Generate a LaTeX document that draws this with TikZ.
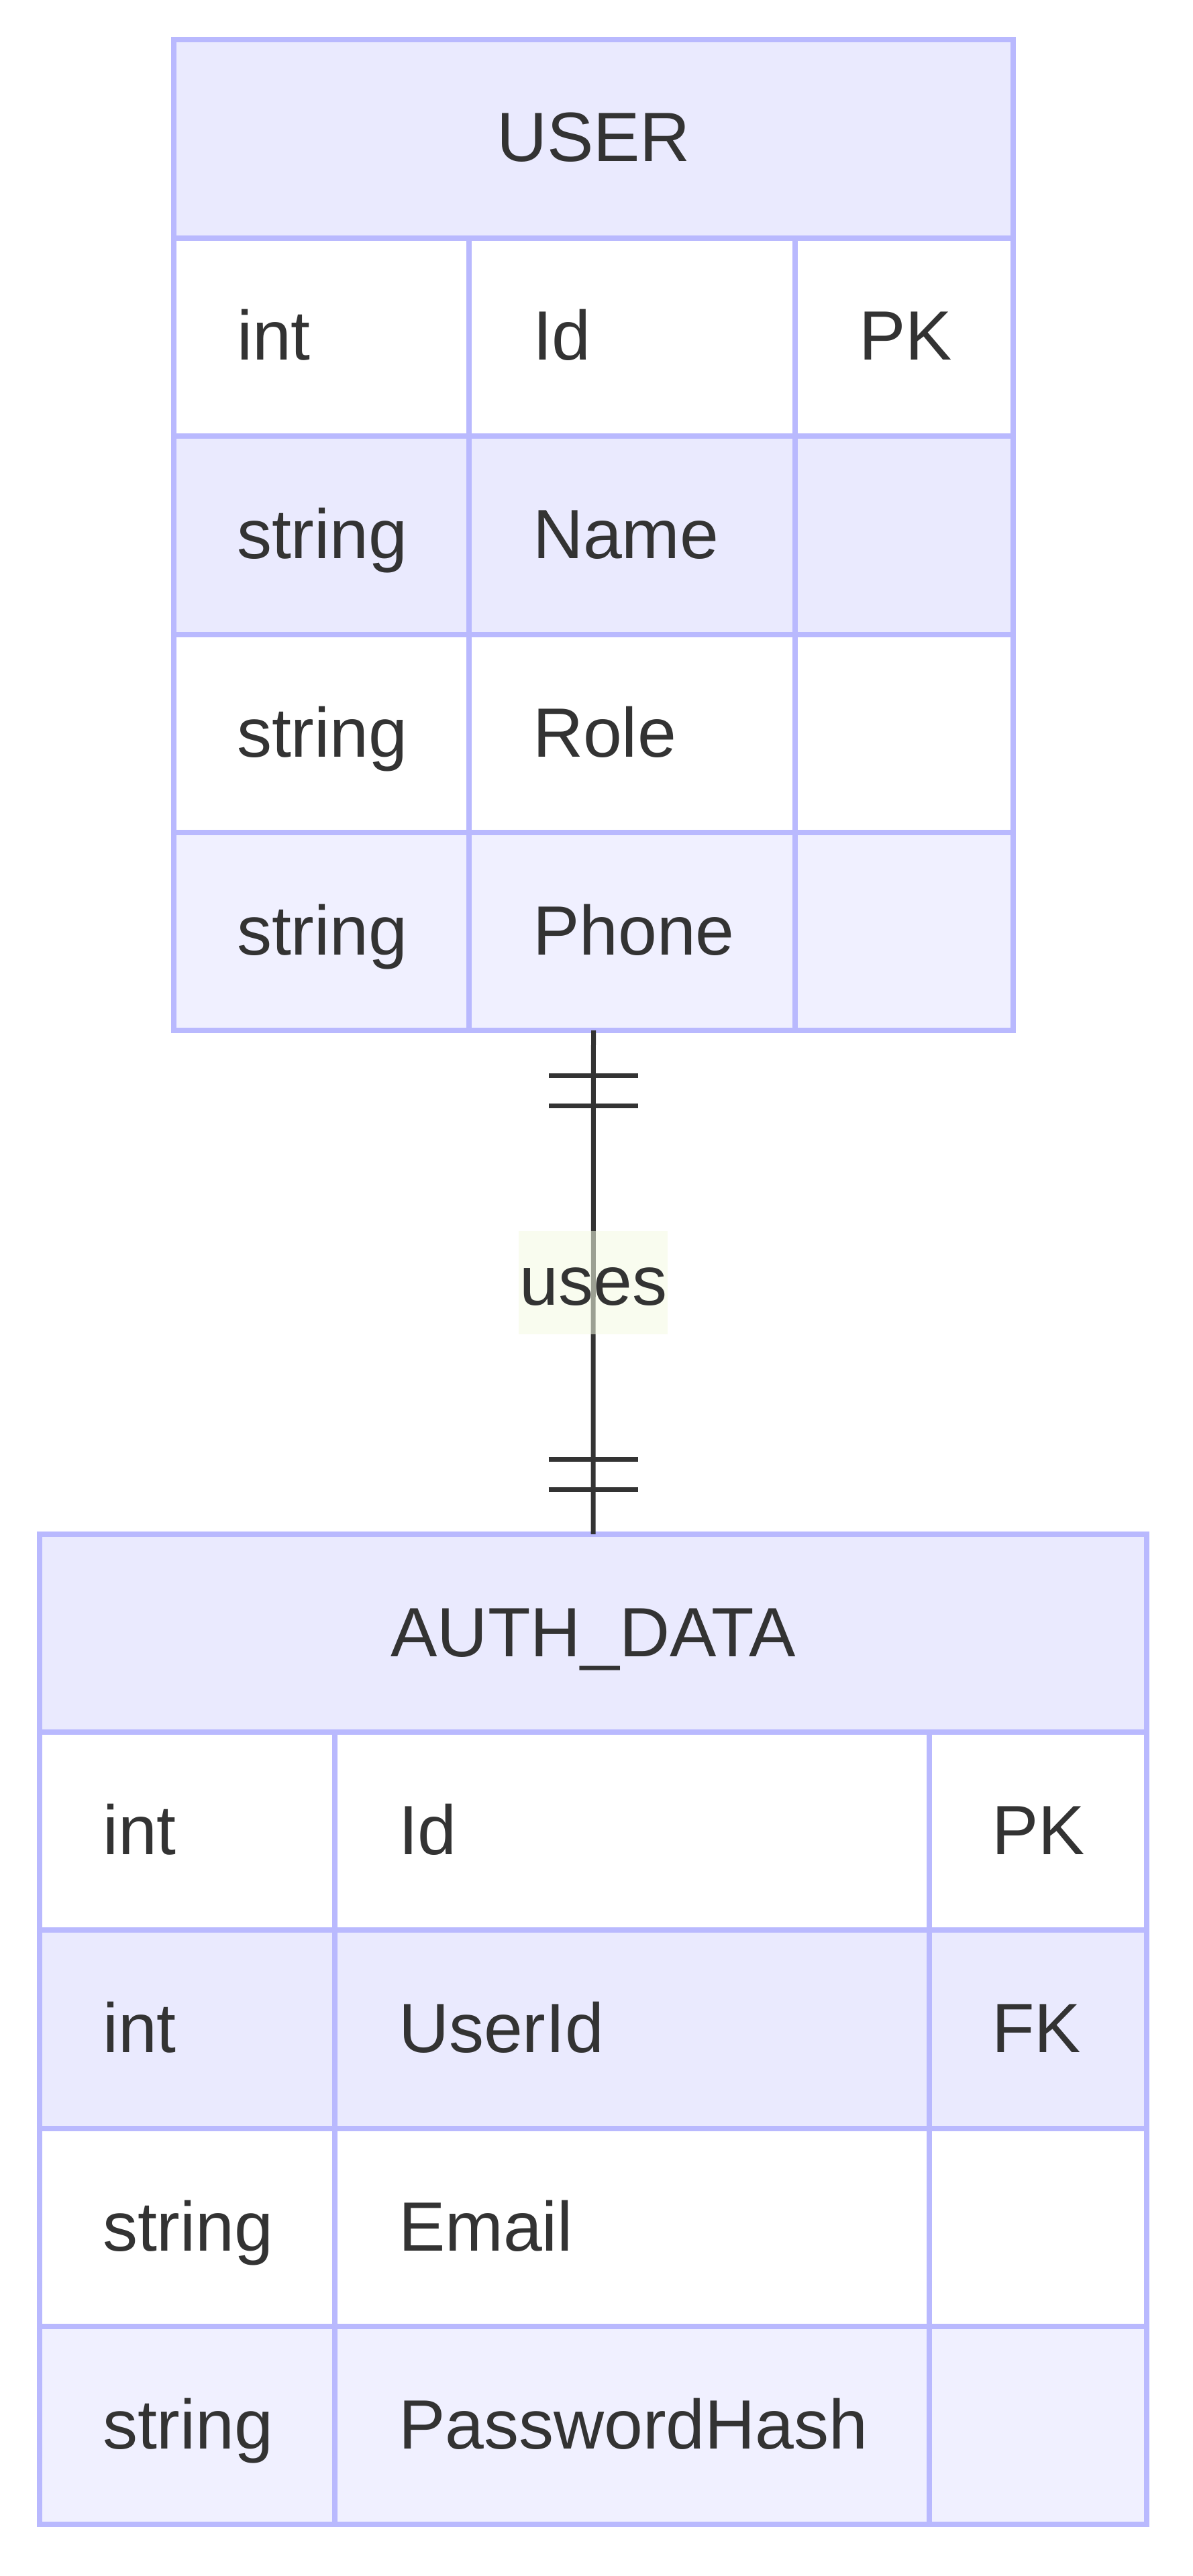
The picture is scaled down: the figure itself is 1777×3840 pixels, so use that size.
\documentclass[tikz,border=0pt]{standalone}
\usepackage{fontspec}
\setmainfont{Liberation Sans}
\usetikzlibrary{calc}
\definecolor{ebord}{RGB}{185,185,254}
\definecolor{ehead}{RGB}{234,234,254}
\definecolor{eeven}{RGB}{234,234,254}
\definecolor{elast}{RGB}{240,240,255}
\definecolor{etext}{RGB}{51,51,51}
\definecolor{elabel}{RGB}{244,250,226}
\tikzset{
  celltxt/.style={anchor=base west, inner sep=0pt, outer sep=0pt, font=\fontsize{26}{30}\selectfont, text=etext},
  headtxt/.style={celltxt, anchor=base},
  gridline/.style={draw=ebord, line width=2pt},
  boxnode/.style={inner sep=0pt, outer sep=0pt, draw=none},
  rel/.style={draw=etext, line width=1.75pt},
  lab/.style={inner sep=0pt, outer sep=0pt, fill=elabel, fill opacity=0.55, text opacity=1, minimum width=55.5pt, minimum height=38.5pt, text height=27.75pt, text depth=10.75pt, font=\fontsize{26}{30}\selectfont, text=etext}
}
\begin{document}
\begin{tikzpicture}[x=0.25pt,y=-0.25pt]
\useasboundingbox (0,0) rectangle (1777,3840);
% ---------- USER ----------
\node[boxnode, minimum width=312.75pt, minimum height=369.25pt] (user) at (884.5,797.5) {};
\fill[ehead] (259,59) rectangle (1510,355);
\fill[white] (259,355) rectangle (1510,650);
\fill[eeven] (259,650) rectangle (1510,946);
\fill[white] (259,946) rectangle (1510,1241);
\fill[elast] (259,1241) rectangle (1510,1536);
\draw[gridline] (259,59) rectangle (1510,1536);
\foreach \yy in {355,650,946,1241} \draw[gridline] (259,\yy) -- (1510,\yy);
\draw[gridline] (699,355) -- (699,1536);
\draw[gridline] (1185,355) -- (1185,1536);
\node[headtxt] (userT) at (884.5,241) {USER};
\node[celltxt] (u1a) at (353,537) {int};
\node[celltxt] (u1b) at (794,537) {Id};
\node[celltxt] (u1c) at (1280,537) {PK};
\node[celltxt] (u2a) at (353,832) {string};
\node[celltxt] (u2b) at (794,832) {Name};
\node[celltxt] (u3a) at (353,1128) {string};
\node[celltxt] (u3b) at (794,1128) {Role};
\node[celltxt] (u4a) at (353,1423) {string};
\node[celltxt] (u4b) at (794,1423) {Phone};
% ---------- AUTH_DATA ----------
\node[boxnode, minimum width=412.5pt, minimum height=369pt] (auth) at (884,3025) {};
\fill[ehead] (59,2287) rectangle (1709,2582);
\fill[white] (59,2582) rectangle (1709,2877);
\fill[eeven] (59,2877) rectangle (1709,3173);
\fill[white] (59,3173) rectangle (1709,3468);
\fill[elast] (59,3468) rectangle (1709,3763);
\draw[gridline] (59,2287) rectangle (1709,3763);
\foreach \yy in {2582,2877,3173,3468} \draw[gridline] (59,\yy) -- (1709,\yy);
\draw[gridline] (499,2582) -- (499,3763);
\draw[gridline] (1385,2582) -- (1385,3763);
\node[headtxt] (authT) at (884,2469) {AUTH\_DATA};
\node[celltxt] (a1a) at (153,2764) {int};
\node[celltxt] (a1b) at (594,2764) {Id};
\node[celltxt] (a1c) at (1478,2764) {PK};
\node[celltxt] (a2a) at (153,3059) {int};
\node[celltxt] (a2b) at (594,3059) {UserId};
\node[celltxt] (a2c) at (1478,3059) {FK};
\node[celltxt] (a3a) at (153,3355) {string};
\node[celltxt] (a3b) at (594,3355) {Email};
\node[celltxt] (a4a) at (153,3650) {string};
\node[celltxt] (a4b) at (594,3650) {PasswordHash};
% ---------- relationship ----------
\draw[rel] (user.south) -- node[lab] (usesL) {uses} (auth.north);
\draw[rel] ($(user.south)+(-66.5,67)$) -- ($(user.south)+(66.5,67)$);
\draw[rel] ($(user.south)+(-66.5,112)$) -- ($(user.south)+(66.5,112)$);
\draw[rel] ($(auth.north)+(-66.5,-111.5)$) -- ($(auth.north)+(66.5,-111.5)$);
\draw[rel] ($(auth.north)+(-66.5,-66.5)$) -- ($(auth.north)+(66.5,-66.5)$);
\end{tikzpicture}
\end{document}
